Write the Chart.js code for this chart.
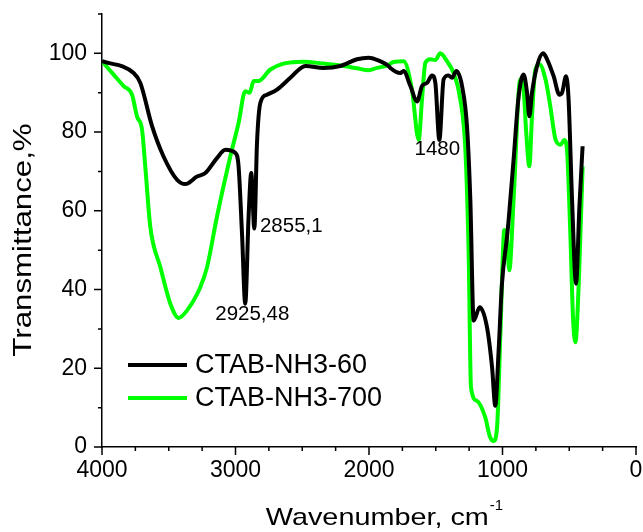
<!DOCTYPE html>
<html>
<head>
<meta charset="utf-8">
<script src="https://cdn.jsdelivr.net/npm/chart.js@4/dist/chart.umd.min.js"></script>
<style>
  html, body { margin: 0; padding: 0; background: #fff; }
  #wrap { width: 643px; height: 532px; }
</style>
</head>
<body>
<div id="wrap"><canvas id="ftir" width="643" height="532"></canvas></div>
<script>
// Espectro FTIR: dos muestras CTAB-NH3
const seriesNames = ['CTAB-NH3-60', 'CTAB-NH3-700'];

// CTAB-NH3-60 (negra)
const wn60 = [4000, 3763, 3713, 3625, 3539, 3438, 3376, 3288, 3226, 3139, 3076, 3001, 2977, 2951, 2927,
  2902, 2882, 2859, 2839, 2814, 2764, 2689, 2589, 2476, 2340, 2215, 2090, 2003, 1915, 1853,
  1840, 1765, 1741, 1690, 1640, 1603, 1565, 1528, 1503, 1473, 1441, 1404, 1378, 1346, 1303,
  1266, 1241, 1216, 1171, 1116, 1078, 1054, 1029, 1004, 966, 954, 917, 879, 842, 816,
  799, 779, 741, 696, 666, 617, 574, 554, 524, 505, 479, 449, 424, 400];
const t60 = [98, 95, 92.5, 81.5, 73.8, 67.9, 66.8, 68.7, 69.6, 73.4, 75.5, 74.7, 71.3, 54, 36.4,
  58.5, 69.6, 55.5, 77.2, 87.4, 89.5, 90.8, 93.8, 96.8, 96.3, 96.8, 98.5, 98.9, 98, 96.8,
  96.3, 95, 95.5, 91.7, 87.8, 91.7, 92.5, 94.4, 92.5, 78, 93.4, 94.4, 93.8, 95.5, 91.7,
  81.5, 62.8, 32.1, 35.5, 30.4, 20.2, 10.5, 24.5, 41.5, 53.4, 57.7, 73, 89.1, 94.6, 90,
  84, 90, 96.8, 100, 98.5, 94.2, 89.5, 90, 94.2, 88.3, 62.8, 41.5, 61, 76.4];

// CTAB-NH3-700 (verde)
const wn700 = [4000, 3913, 3838, 3775, 3738, 3700, 3676, 3638, 3563, 3488, 3426, 3363, 3264, 3213, 3139,
  3039, 2977, 2927, 2894, 2864, 2827, 2739, 2640, 2490, 2340, 2190, 2090, 2003, 1940, 1865,
  1816, 1741, 1678, 1628, 1603, 1578, 1541, 1503, 1466, 1416, 1366, 1316, 1278, 1254, 1236,
  1191, 1129, 1096, 1067, 1041, 1016, 986, 966, 949, 917, 867, 842, 822, 799, 779,
  754, 722, 678, 642, 602, 565, 537, 517, 492, 472, 454, 429, 400];
const t700 = [98, 94.6, 91.7, 89.5, 84, 80.6, 71.3, 55.9, 45.7, 36.4, 32.8, 34.7, 40.6, 45.7, 58.5,
  73.8, 82.3, 90.4, 90, 93, 93, 95.9, 97.4, 97.9, 97.4, 96.8, 96.2, 95.7, 96.3, 96.9,
  97.8, 98, 90.8, 78, 88.3, 97.6, 98.5, 98.3, 100, 98, 95, 88.3, 75.5, 50, 15.1,
  11.7, 7.5, 2.8, 1.5, 4.9, 28.7, 55.1, 52.6, 44.9, 62.8, 93.4, 90.8, 79.8, 71.3, 84,
  95.9, 97.2, 93.4, 86.6, 78, 76.8, 78, 75.5, 54.3, 33, 26.6, 41.5, 71.3];

// etiquetas de picos: texto, número de onda y transmitancia del centro
const peakText = ['2925,48', '2855,1', '1480'];
const peakWn = [2874, 2582, 1488];
const peakT = [33.7, 56.1, 75.7];

const xTicks = [0, 1000, 2000, 3000, 4000];
const yTicks = [0, 20, 40, 60, 80, 100];

const FONT = '"Liberation Sans", Arial, sans-serif';
const toXY = (xs, ys) => xs.map((x, i) => ({ x: x, y: ys[i] }));

// ticks mayores/menores, títulos, leyenda y anotaciones
const decor = {
  id: 'decor',
  afterDraw(chart) {
    const ctx = chart.ctx;
    const xs = chart.scales.x, ys = chart.scales.y;
    const a = chart.chartArea;
    ctx.save();
    ctx.strokeStyle = '#000';
    ctx.lineWidth = 1.5;
    ctx.beginPath();
    for (let v = 0; v <= 4000; v += 250) {
      const p = xs.getPixelForValue(v);
      const len = v % 1000 === 0 ? 8 : 4;
      ctx.moveTo(p, a.bottom);
      ctx.lineTo(p, a.bottom + len);
    }
    for (let v = 0; v <= 110; v += 10) {
      const p = ys.getPixelForValue(v);
      const len = v % 20 === 0 ? 8 : 4;
      ctx.moveTo(a.left - len, p);
      ctx.lineTo(a.left, p);
    }
    ctx.stroke();

    ctx.fillStyle = '#000';
    // título eje x con superíndice (texto algo ensanchado como el original)
    const sx = 1.2;
    ctx.font = '24px ' + FONT;
    ctx.textBaseline = 'alphabetic';
    ctx.textAlign = 'left';
    const main = 'Wavenumber, cm';
    const w1 = ctx.measureText(main).width * sx;
    ctx.font = '15px ' + FONT;
    const w2 = ctx.measureText('-1').width;
    const x0 = (a.left + a.right) / 2 + 15 - (w1 + w2) / 2;
    ctx.save();
    ctx.translate(x0, 525);
    ctx.scale(sx, 1);
    ctx.font = '24px ' + FONT;
    ctx.fillText(main, 0, 0);
    ctx.restore();
    ctx.font = '15px ' + FONT;
    ctx.fillText('-1', x0 + w1 + 1, 510);

    // título eje y
    ctx.save();
    ctx.translate(24, 240);
    ctx.rotate(-Math.PI / 2);
    ctx.scale(1.25, 1);
    ctx.font = '25px ' + FONT;
    ctx.textAlign = 'center';
    ctx.textBaseline = 'middle';
    ctx.fillText('Transmittance,%', 0, 0);
    ctx.restore();

    // leyenda
    ctx.font = '27px ' + FONT;
    ctx.textAlign = 'left';
    ctx.textBaseline = 'middle';
    chart.data.datasets.forEach((ds, i) => {
      const yy = 365 + i * 33;
      ctx.strokeStyle = ds.borderColor;
      ctx.lineWidth = 4;
      ctx.beginPath();
      ctx.moveTo(128, yy);
      ctx.lineTo(187, yy);
      ctx.stroke();
      ctx.fillText(ds.label, 195, yy + 1);
    });

    // anotaciones de picos
    ctx.font = '20.5px ' + FONT;
    ctx.textAlign = 'center';
    ctx.textBaseline = 'middle';
    peakText.forEach((t, i) => {
      ctx.fillText(t, xs.getPixelForValue(peakWn[i]), ys.getPixelForValue(peakT[i]));
    });
    ctx.restore();
  }
};

const ctxFtir = document.getElementById('ftir').getContext('2d');
new Chart(ctxFtir, {
  type: 'line',
  data: {
    datasets: [
      { label: seriesNames[0], data: toXY(wn60, t60), borderColor: '#000000' },
      { label: seriesNames[1], data: toXY(wn700, t700), borderColor: '#00ff00' }
    ]
  },
  options: {
    responsive: false,
    animation: false,
    layout: { padding: { top: 14, right: 7, left: 0, bottom: 0 } },
    elements: {
      point: { radius: 0 },
      line: { borderWidth: 4, cubicInterpolationMode: 'monotone', borderJoinStyle: 'round', fill: false }
    },
    plugins: {
      legend: { display: false },
      tooltip: { enabled: false }
    },
    scales: {
      x: {
        type: 'linear',
        reverse: true,
        min: 0,
        max: 4000,
        grid: { display: false, drawTicks: false },
        border: { display: true, color: '#000', width: 1.5 },
        afterBuildTicks: s => { s.ticks = xTicks.map(v => ({ value: v })); },
        ticks: { color: '#000', padding: 10, maxRotation: 0, font: { family: FONT, size: 23 },
                 callback: v => String(v) },
        afterFit: s => { s.height = 85; s.paddingLeft = 0; s.paddingRight = 0; }
      },
      y: {
        min: 0,
        max: 110,
        grid: { display: false, drawTicks: false },
        border: { display: true, color: '#000', width: 1.5 },
        afterBuildTicks: s => { s.ticks = yTicks.map(v => ({ value: v })); },
        ticks: { color: '#000', padding: 15, font: { family: FONT, size: 23 },
                 callback: v => String(v) },
        afterFit: s => { s.width = 102; s.paddingTop = 0; s.paddingBottom = 0; }
      }
    }
  },
  plugins: [decor]
});
</script>
</body>
</html>
